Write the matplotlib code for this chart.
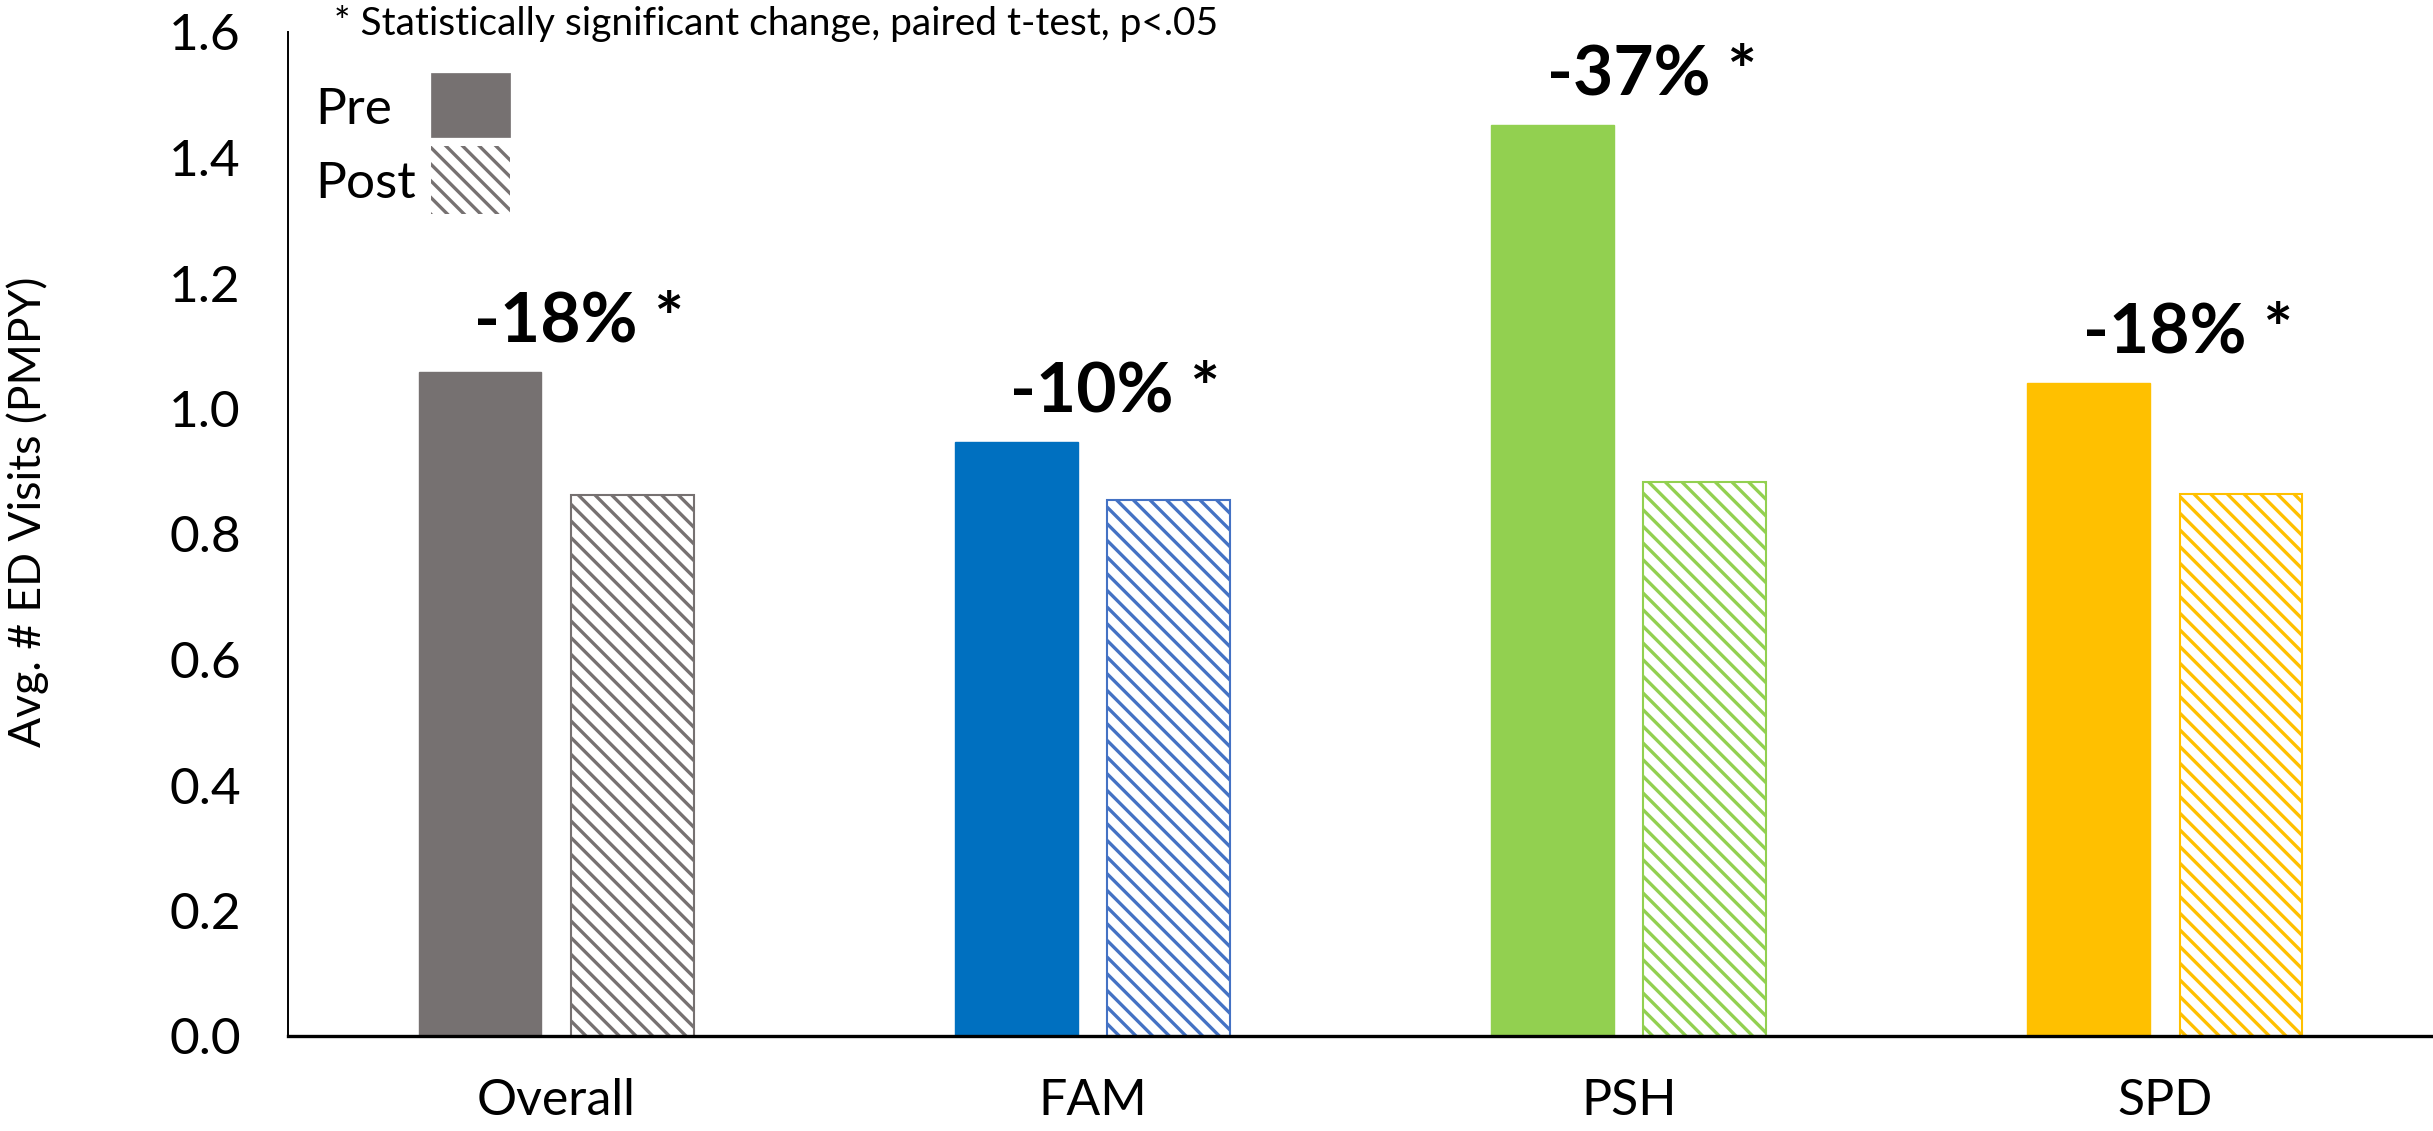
import matplotlib
matplotlib.use("Agg")
import matplotlib.pyplot as plt
from matplotlib.patches import Rectangle
import numpy as np

categories = ["Overall", "FAM", "PSH", "SPD"]
pre_values = [1.058, 0.947, 1.452, 1.041]
post_values = [0.862, 0.854, 0.883, 0.864]
change_labels = ["-18% *", "-10% *", "-37% *", "-18% *"]
pre_colors = ["#767171", "#0070C0", "#92D050", "#FFC000"]
post_colors = ["#767171", "#4472C4", "#92D050", "#FFC000"]
yticks = [0.0, 0.2, 0.4, 0.6, 0.8, 1.0, 1.2, 1.4, 1.6]
ytick_labels = ["0.0", "0.2", "0.4", "0.6", "0.8", "1.0", "1.2", "1.4", "1.6"]
legend_labels = ["Pre", "Post"]
note_text = "* Statistically significant change, paired t-test, p<.05"
ylabel_text = "Avg. # ED Visits (PMPY)"

plt.rcParams['font.family'] = ['Lato', 'DejaVu Sans']
plt.rcParams['hatch.linewidth'] = 2.4

W, H = 2433, 1131
dpi = 100
fig = plt.figure(figsize=(W / dpi, H / dpi), dpi=dpi)
ax = fig.add_axes([288 / W, 1 - 1036 / H, 1 - 288 / W, (1036 - 32) / H])

x = np.arange(len(categories))
bw = 0.229
off = 0.142
HATCH = "\\\\"
ax.bar(x - off, pre_values, width=bw, color=pre_colors, edgecolor=pre_colors,
       linewidth=1.0, zorder=2)
for i in range(len(categories)):
    ax.bar(x[i] + off, post_values[i], width=bw, facecolor="white",
           edgecolor=post_colors[i], hatch=HATCH, linewidth=1.5, zorder=2)

for i, lab in enumerate(change_labels):
    ax.annotate(lab, xy=(x[i] + 0.043, pre_values[i]), xytext=(0, 22),
                textcoords="offset points", ha="center", va="baseline",
                fontsize=50, fontweight="bold", color="black")

ax.set_xlim(-0.5, 3.5)
ax.set_ylim(0, 1.6)
ax.set_yticks(yticks)
ax.set_yticklabels(ytick_labels)
ax.set_xticks(x)
ax.set_xticklabels(categories)
ax.tick_params(axis="y", length=0, pad=34, labelsize=37)
ax.tick_params(axis="x", length=0, pad=30, labelsize=36)
for s in ["top", "right"]:
    ax.spines[s].set_visible(False)
ax.spines["left"].set_linewidth(1.4)
ax.spines["bottom"].set_linewidth(2.4)
ax.spines["left"].set_color("black")
ax.spines["bottom"].set_color("black")

# Manual legend (figure pixel layout)
sw_x0, sw_w = 431, 79
sw_rows = [(73, 137), (146, 214)]
for k, lab in enumerate(legend_labels):
    y0, y1 = sw_rows[k]
    if k == 0:
        r = Rectangle((sw_x0 / W, 1 - y1 / H), sw_w / W, (y1 - y0) / H,
                      transform=fig.transFigure, facecolor=pre_colors[0],
                      edgecolor=pre_colors[0], linewidth=0.5)
    else:
        r = Rectangle((sw_x0 / W, 1 - y1 / H), sw_w / W, (y1 - y0) / H,
                      transform=fig.transFigure, facecolor="white",
                      edgecolor=post_colors[0], hatch=HATCH, linewidth=0.0)
    fig.add_artist(r)
    fig.text(315 / W, 1 - ((y0 + y1) / 2) / H, lab, fontsize=37,
             ha="left", va="center_baseline")

fig.text(334 / W, 1 - 35 / H, note_text, fontsize=28, ha="left", va="baseline")
fig.text(28 / W, 1 - 512 / H, ylabel_text, fontsize=32, rotation=90,
         ha="center", va="center")

fig.savefig("out.png", dpi=dpi, facecolor="white")
